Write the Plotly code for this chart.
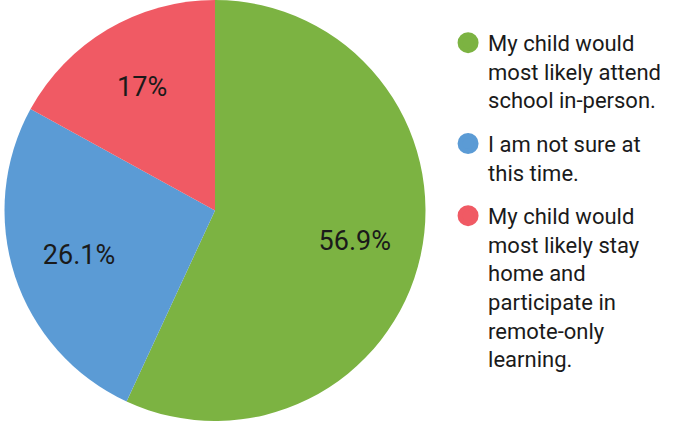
import plotly.graph_objects as go

labels = [
    "My child would<br>most likely attend<br>school in-person.",
    "I am not sure at<br>this time.",
    "My child would<br>most likely stay<br>home and<br>participate in<br>remote-only<br>learning.",
]
values = [56.9, 26.1, 17.0]
colors = ["#7cb342", "#5b9bd5", "#f05a64"]

dom = dict(x=[0.0, 0.6305], y=[0, 1])

fig = go.Figure()
# coloured pie
fig.add_trace(go.Pie(
    labels=labels, values=values, sort=False, direction="clockwise", rotation=0,
    marker=dict(colors=colors, line=dict(width=0)),
    textinfo="none", showlegend=False, domain=dom,
))
# transparent ring carrying the percentage labels further out
fig.add_trace(go.Pie(
    labels=labels, values=values, sort=False, direction="clockwise", rotation=0,
    hole=0.36,
    marker=dict(colors=["rgba(0,0,0,0)"] * len(values), line=dict(width=0)),
    textinfo="percent", textposition="inside", insidetextorientation="horizontal",
    textfont=dict(family="Roboto", size=27, color="#1a1a1a"),
    showlegend=False, domain=dom, hoverinfo="skip",
))
for i, (lab, col) in enumerate(zip(labels, colors)):
    fig.add_trace(go.Scatter(
        x=[None], y=[None], mode="markers", name=lab, legendgroup=f"g{i}",
        marker=dict(symbol="circle", size=16, color=col, line=dict(color=col, width=5)),
    ))

fig.update_layout(
    width=682, height=421, margin=dict(l=0, r=0, t=0, b=0),
    paper_bgcolor="white", plot_bgcolor="white",
    xaxis=dict(visible=False), yaxis=dict(visible=False),
    font=dict(family="Roboto", color="#1a1a1a"),
    uniformtext=dict(minsize=27, mode="show"),
    legend=dict(x=0.657, y=0.948, xanchor="left", yanchor="top", valign="top",
                font=dict(family="Roboto", size=22, color="#1a1a1a"),
                tracegroupgap=12, itemwidth=30),
)
fig.write_html("out.html", config={"displayModeBar": False},
               post_script="document.body.style.margin='0';")
